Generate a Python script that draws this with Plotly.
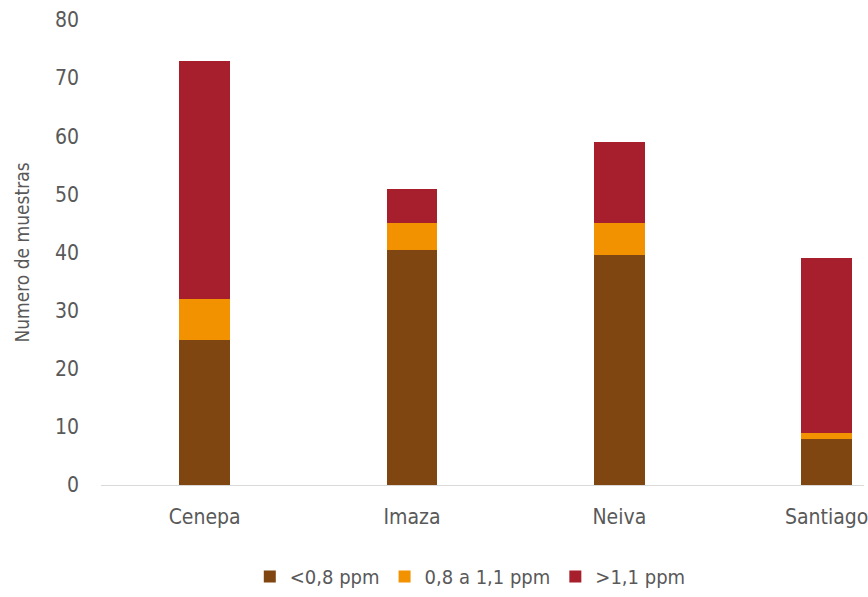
import plotly.graph_objects as go

categories = ["Cenepa", "Imaza", "Neiva", "Santiago"]
low = [25, 40.5, 39.5, 8]        # <0,8 ppm
mid = [7, 4.5, 5.5, 1]           # 0,8 a 1,1 ppm
high = [41, 6, 14, 30]           # >1,1 ppm
series_names = ["<0,8 ppm", "0,8 a 1,1 ppm", ">1,1 ppm"]
colors = ["#7F4612", "#F29200", "#A71F2D"]
y_ticks = [0, 10, 20, 30, 40, 50, 60, 70, 80]

FONT = "DejaVu Sans Condensed, Liberation Sans Narrow, sans-serif"
TXT = "#595959"

fig = go.Figure()
for name, vals, col in zip(series_names, [low, mid, high], colors):
    fig.add_trace(go.Bar(x=categories, y=vals, name=name, marker_color=col,
                         marker_line_width=0, width=0.245))

fig.update_layout(
    barmode="stack",
    width=868, height=597,
    margin=dict(l=101, r=0, t=20, b=112),
    plot_bgcolor="white", paper_bgcolor="white",
    font=dict(family=FONT, color=TXT, size=20),
    showlegend=True,
    legend=dict(orientation="h", x=0.484, xanchor="center", y=-0.155, yanchor="top",
                font=dict(size=20, color=TXT), traceorder="normal",
                itemwidth=30, tracegroupgap=0),
    bargap=0.755,
)
fig.update_xaxes(range=[-0.5, 3.18], showline=True, linecolor="#D9D9D9", linewidth=1,
                 showgrid=False, ticks="", tickfont=dict(size=21, color=TXT),
                 ticklabelstandoff=13)
fig.update_yaxes(range=[0, 80], tickvals=y_ticks, showgrid=False, zeroline=False,
                 showline=False, ticks="", tickfont=dict(size=21, color=TXT),
                 ticklabelstandoff=21,
                 title=dict(text="Numero de muestras", font=dict(size=19, color=TXT), standoff=20))

fig.write_html("out.html")
